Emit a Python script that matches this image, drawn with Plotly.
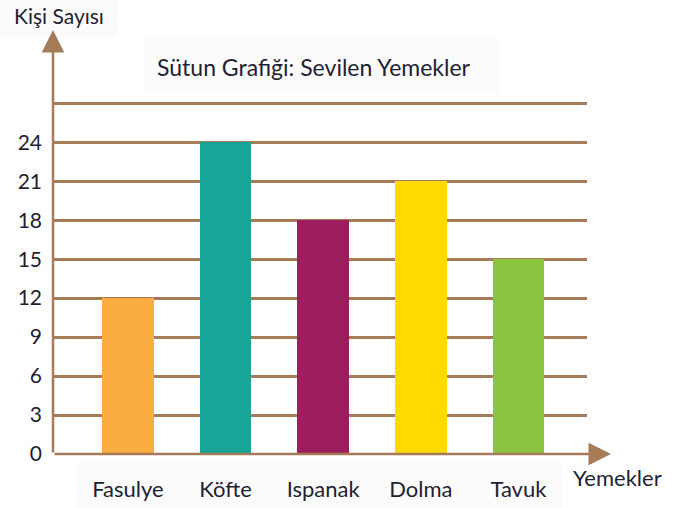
import plotly.graph_objects as go

categories = ["Fasulye", "Köfte", "Ispanak", "Dolma", "Tavuk"]
values = [12, 24, 18, 21, 15]
colors = ["#FBAD41", "#17A598", "#9D1E5F", "#FFDA00", "#8BC540"]
y_ticks = [0, 3, 6, 9, 12, 15, 18, 21, 24, 27]
y_tick_labels = ["0", "3", "6", "9", "12", "15", "18", "21", "24", ""]
title_text = "Sütun Grafiği: Sevilen Yemekler"
y_title = "Kişi Sayısı"
x_title = "Yemekler"

W, H = 683, 508
L, R, T, B = 53, 96, 102, 54
PW, PH = W - L - R, H - T - B
BROWN = "#A57B58"
TXT = "#1f1f33"
FONT = "Lato"


def px(x):
    return (x - L) / PW


def py(y):
    return (H - B - y) / PH


fig = go.Figure()
fig.add_trace(go.Bar(
    x=list(range(len(categories))), y=values,
    marker=dict(color=colors, line=dict(width=0)),
    width=0.53,
))

shapes = []
for (x0, y0, x1, y1) in [(0, 0, 118, 38), (143, 38, 500, 93), (77, 462, 562, 508)]:
    shapes.append(dict(type="rect", xref="paper", yref="paper",
                       x0=px(x0), x1=px(x1), y0=py(y1), y1=py(y0),
                       fillcolor="#fbfbfb", line=dict(width=0), layer="below"))


def label(x, y, text, size):
    return dict(xref="paper", yref="paper", x=px(x), y=py(y), text=text,
                xanchor="center", yanchor="middle", showarrow=False,
                font=dict(size=size, color=TXT, family=FONT))


annotations = [
    label(59, 16, y_title, 21),
    label(314, 67, title_text, 23),
    label(617, 477, x_title, 22),
    # y axis arrow
    dict(xref="paper", yref="paper", x=px(53), y=py(30), ax=0, ay=H - B - 30,
         axref="pixel", ayref="pixel", text="", showarrow=True,
         arrowhead=2, arrowsize=1.8, arrowwidth=2.5, arrowcolor=BROWN, standoff=0),
    # x axis arrow
    dict(xref="paper", yref="paper", x=px(611), y=py(H - B), ax=-(611 - L), ay=0,
         axref="pixel", ayref="pixel", text="", showarrow=True,
         arrowhead=2, arrowsize=1.8, arrowwidth=2.5, arrowcolor=BROWN, standoff=0),
]

fig.update_layout(
    width=W, height=H,
    margin=dict(l=L, r=R, t=T, b=B, pad=0, autoexpand=False),
    paper_bgcolor="white", plot_bgcolor="white",
    showlegend=False,
    shapes=shapes, annotations=annotations,
    bargap=0,
    xaxis=dict(
        range=[-0.768, 4.703], tickvals=list(range(len(categories))), ticktext=categories,
        showgrid=False, zeroline=False, showline=False, ticks="",
        tickfont=dict(size=22, color=TXT, family=FONT), ticklabelstandoff=20,
        automargin=False, fixedrange=True,
    ),
    yaxis=dict(
        range=[0, 27.1], tickvals=y_ticks, ticktext=y_tick_labels,
        showgrid=True, gridcolor=BROWN, gridwidth=2.5,
        zeroline=False, showline=False, ticks="",
        tickfont=dict(size=21, color=TXT, family=FONT), ticklabelstandoff=10,
        automargin=False, fixedrange=True,
    ),
)

fig.write_html("out.html", config={"displayModeBar": False},
               post_script="document.body.style.margin='0px';")
